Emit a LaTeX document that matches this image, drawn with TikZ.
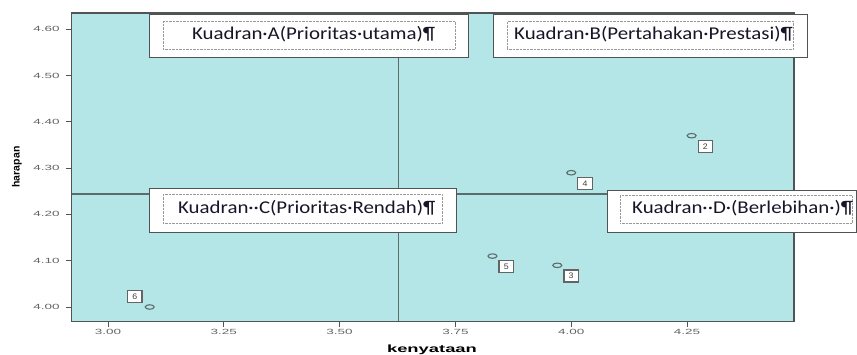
\documentclass[tikz,border=0pt]{standalone}
\usepackage{fontspec}
\setmainfont{Carlito}
\newfontfamily\axisfont{Liberation Sans}
\usetikzlibrary{positioning}
\definecolor{plotbg}{RGB}{180,230,231}
\definecolor{framegray}{RGB}{80,84,84}
\definecolor{tickgray}{RGB}{100,100,100}
\definecolor{quadgray}{RGB}{90,108,108}
\definecolor{boxtext}{RGB}{22,22,40}
\newcommand{\quadlabel}[2]{\hspace*{#1}\raisebox{4pt}{\scalebox{1.16}[1]{#2}}}
\tikzset{
  ticklbl/.style={font=\axisfont\fontsize{7.5}{9}\selectfont, text=tickgray, xscale=1.8, inner sep=0pt},
  axislbl/.style={font=\axisfont\bfseries\fontsize{10.5}{12}\selectfont, text=black, inner sep=0pt},
  obs/.style={circle, draw=quadgray, line width=1.1pt, minimum size=4.5pt, inner sep=0pt, xscale=2},
  caselbl/.style={draw=tickgray, line width=1.2pt, fill=white, minimum width=13pt, minimum height=12pt, inner sep=0pt,
    font=\axisfont\fontsize{8}{9}\selectfont, text=black!75},
  quadbox/.style={draw=framegray, fill=white, line width=0.9pt},
  quadtext/.style={draw=gray!80, densely dotted, fill=white, text=boxtext, font=\fontsize{18}{21}\selectfont,
    inner xsep=0pt, inner ysep=0pt, minimum height=28pt, align=left, anchor=north west}
}
\begin{document}
\begin{tikzpicture}[x=1pt, y=1pt]
\useasboundingbox (0,0) rectangle (857,354);
\begin{scope}[x=463.2pt, y=463pt, xshift=-1281.6pt, yshift=-1805pt]
\coordinate (plotSW) at (2.922,3.968);
\coordinate (plotNE) at (4.481,4.635);
\coordinate (mid) at (3.627,4.244);
\fill[plotbg] (plotSW) rectangle (plotNE);
\draw[quadgray, line width=1.4pt] (mid |- plotSW) -- (mid |- plotNE) (mid -| plotSW) -- (mid -| plotNE);
\draw[framegray, line width=1.2pt] (plotSW) rectangle (plotNE);
\foreach \v [count=\i] in {4.00,4.10,4.20,4.30,4.40,4.50,4.60}
  \draw[framegray, line width=1pt] (2.922,\v) -- ++(-6pt,0) node[ticklbl, anchor=east, xshift=-3pt] (yt\i) {\v};
\foreach \v [count=\i] in {3.00,3.25,3.50,3.75,4.00,4.25}
  \draw[framegray, line width=1pt] (\v,3.968) -- ++(0,-5pt) node[ticklbl, anchor=north, yshift=-2pt] (xt\i) {\v};
\foreach \n/\x/\y in {2/4.26/4.37, 3/3.97/4.09, 4/4.00/4.29, 5/3.83/4.11}{
  \node[obs] (c\n) at (\x,\y) {};
  \node[caselbl, xscale=1.1, below right=2pt and 2pt of c\n] (l\n) {\n};
}
\node[obs] (c6) at (3.09,4.00) {};
\node[caselbl, xscale=1.1, above left=2pt and 3pt of c6] (l6) {6};
\end{scope}
\node[axislbl, xscale=1.75, anchor=base] (xlbl) at (432,2) {kenyataan};
\node[axislbl, rotate=90] (ylbl) at (17,187) {harapan};
\draw[quadbox] (149,297) rectangle (468,340);
\node[quadtext, text width=292pt] (kuadA) at (163,333) {\quadlabel{29pt}{Kuadran·A(Prioritas·utama)¶}};
\draw[quadbox] (493,297) rectangle (807,340);
\node[quadtext, text width=286pt] (kuadB) at (507,333) {\quadlabel{7pt}{Kuadran·B(Pertahakan·Prestasi)¶}};
\draw[quadbox] (149,122) rectangle (456,166);
\node[quadtext, text width=279pt, minimum height=29pt] (kuadC) at (163,160) {\quadlabel{15pt}{Kuadran··C(Prioritas·Rendah)¶}};
\draw[quadbox] (607,122) rectangle (856,164);
\node[quadtext, text width=232pt] (kuadD) at (620,159) {\quadlabel{12pt}{Kuadran··D·(Berlebihan·)¶}};
\end{tikzpicture}
\end{document}
